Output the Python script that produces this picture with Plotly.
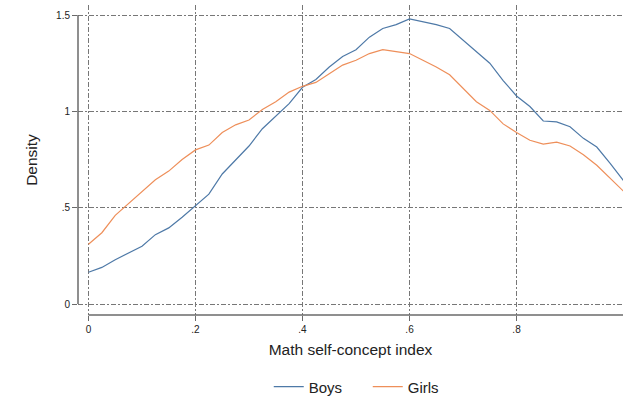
import plotly.graph_objects as go

# Data
x_vals = [0.000, 0.025, 0.050, 0.075, 0.100, 0.125, 0.150, 0.175, 0.200, 0.225,
          0.250, 0.275, 0.300, 0.325, 0.350, 0.375, 0.400, 0.425, 0.450, 0.475,
          0.500, 0.525, 0.550, 0.575, 0.600, 0.625, 0.650, 0.675, 0.700, 0.725,
          0.750, 0.775, 0.800, 0.825, 0.850, 0.875, 0.900, 0.925, 0.950, 0.975, 1.000]

boys = [0.165, 0.19, 0.23, 0.265, 0.30, 0.36, 0.395, 0.45, 0.51, 0.57,
        0.675, 0.75, 0.82, 0.91, 0.975, 1.04, 1.125, 1.165, 1.23, 1.285,
        1.32, 1.385, 1.43, 1.45, 1.48, 1.465, 1.45, 1.43, 1.37, 1.31,
        1.25, 1.16, 1.08, 1.025, 0.95, 0.945, 0.92, 0.86, 0.815, 0.73, 0.64]

girls = [0.31, 0.37, 0.46, 0.52, 0.58, 0.645, 0.69, 0.75, 0.80, 0.825,
         0.89, 0.93, 0.955, 1.01, 1.05, 1.10, 1.13, 1.15, 1.195, 1.24,
         1.265, 1.30, 1.32, 1.31, 1.30, 1.265, 1.23, 1.19, 1.12, 1.05,
         1.005, 0.935, 0.89, 0.85, 0.83, 0.84, 0.82, 0.775, 0.72, 0.65, 0.585]

x_ticks = [0, 0.2, 0.4, 0.6, 0.8]
x_tick_text = ["0", ".2", ".4", ".6", ".8"]
y_ticks = [0, 0.5, 1, 1.5]
y_tick_text = ["0", ".5", "1", "1.5"]

series_names = ["Boys", "Girls"]
series_colors = ["#4e79a7", "#ee8f5a"]

fig = go.Figure()
for name, ys, col in zip(series_names, [boys, girls], series_colors):
    fig.add_trace(go.Scatter(x=x_vals, y=ys, mode="lines", name=name,
                             line=dict(color=col, width=1.2)))

font_family = "Liberation Sans, Arial, sans-serif"
grid_dash = "5px,2px,2px,2px"
axis_col = "#6a6a6a"
text_col = "#222222"

# Stata-style detached axis lines
fig.add_shape(type="line", xref="paper", yref="y", x0=0, x1=0,
              y0=min(y_ticks), y1=max(y_ticks), line=dict(color=axis_col, width=1.5))
fig.add_shape(type="line", xref="x", yref="paper", x0=min(x_ticks), x1=1.05,
              y0=0, y1=0, line=dict(color=axis_col, width=1.5))

fig.update_layout(
    width=623, height=402,
    margin=dict(l=78, r=0, t=5, b=87, autoexpand=False),
    paper_bgcolor="white", plot_bgcolor="white",
    font=dict(family=font_family, color=text_col, size=10),
    showlegend=True,
    legend=dict(orientation="h", x=0.35, xanchor="left", y=-0.232, yanchor="middle",
                font=dict(size=15, color=text_col), entrywidth=54, entrywidthmode="pixels",
                bgcolor="rgba(0,0,0,0)", tracegroupgap=0),
    xaxis=dict(range=[-0.0196, 0.999], tickvals=x_ticks, ticktext=x_tick_text,
               automargin=False,
               showgrid=True, gridcolor="#777777", gridwidth=1, griddash=grid_dash,
               zeroline=False, showline=False,
               ticks="outside", ticklen=5, tickcolor=axis_col, tickwidth=1,
               tickfont=dict(size=10, color=text_col),
               title=dict(text="Math self-concept index", font=dict(size=15.5, color=text_col),
                          standoff=10)),
    yaxis=dict(range=[-0.057, 1.552], tickvals=y_ticks, ticktext=y_tick_text,
               automargin=False,
               showgrid=True, gridcolor="#777777", gridwidth=1, griddash=grid_dash,
               zeroline=False, showline=False,
               ticks="outside", ticklen=5, tickcolor=axis_col, tickwidth=1,
               tickfont=dict(size=10, color=text_col),
               title=dict(text="Density", font=dict(size=15.5, color=text_col),
                          standoff=14)),
)

fig.write_html("out.html")
